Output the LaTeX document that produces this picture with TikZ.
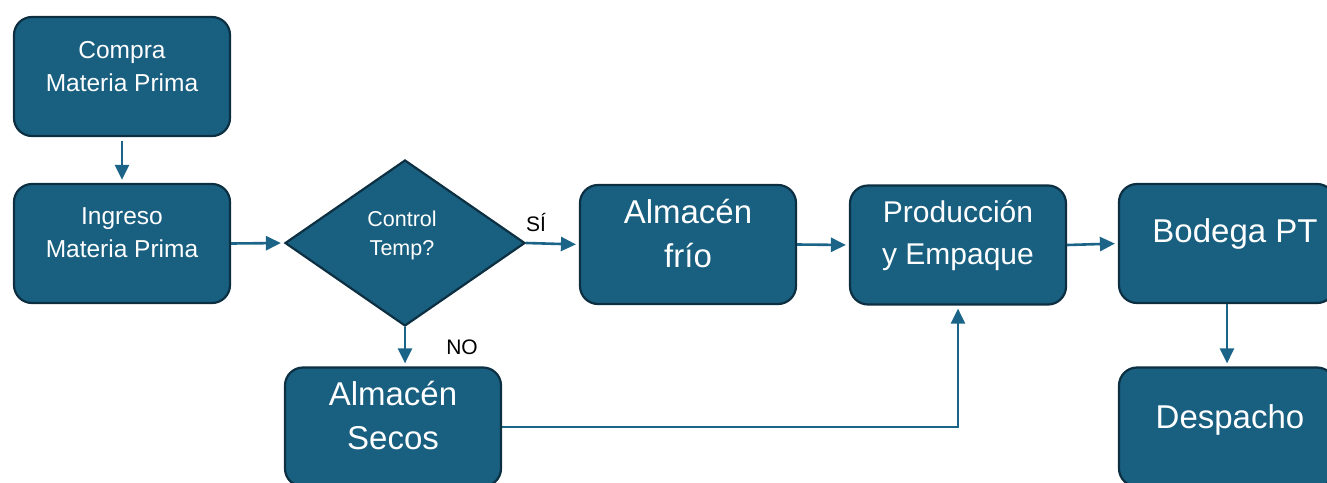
\documentclass[tikz,border=0pt]{standalone}
\usepackage{fontspec}
\setmainfont{Liberation Sans}
\usetikzlibrary{arrows.meta,shapes.geometric}
\definecolor{boxfill}{HTML}{185F80}
\definecolor{boxline}{HTML}{0C3042}
\definecolor{arrowc}{HTML}{1B6487}
\begin{document}
\begin{tikzpicture}[x=1pt,y=-1pt,
  box/.style={draw=boxline, fill=boxfill, line width=2.2pt, rounded corners=18pt,
    minimum width=216pt, minimum height=119pt, inner sep=0pt},
  dec/.style={shape=diamond, draw=boxline, fill=boxfill, line width=2.2pt,
    minimum width=240pt, minimum height=166pt, inner sep=0pt},
  txt/.style={text=white, align=center, inner sep=0pt},
  small/.style={font=\fontsize{24.5}{33}\selectfont},
  tiny/.style={font=\fontsize{21.5}{29}\selectfont},
  big/.style={font=\fontsize{33}{44}\selectfont},
  mid/.style={font=\fontsize{30}{42}\selectfont},
  lab/.style={text=black, inner sep=0pt, font=\fontsize{21}{25}\selectfont},
  conn/.style={draw=arrowc, line width=2.6pt, -{Triangle[length=15pt,width=14pt]}, shorten >=3pt}
]
\useasboundingbox (0,0) rectangle (1327,482);
\clip (0,0) rectangle (1327,482);
% boxes
\node[box] (compra) at (122,76.5) {};
\node[box] (ingreso) at (122,243.5) {};
\node[dec] (ctrl) at (405,243) {};
\node[box] (frio) at (688,244.5) {};
\node[box] (prod) at (958,245) {};
\node[box] (bodega) at (1227,243.5) {};
\node[box] (desp) at (1227,427) {};
\node[box] (secos) at (393,427) {};
% texts
\node[txt,small] (tcompra) at (122,66.5) {Compra\\Materia Prima};
\node[txt,small] (tingreso) at (122,233) {Ingreso\\Materia Prima};
\node[txt,tiny] (tctrl) at (402,235.5) {Control\\Temp?};
\node[txt,big] (tfrio) at (688,233.5) {Almacén\\frío};
\node[txt,mid] (tprod) at (958,236) {Producción\\y Empaque};
\node[txt,big] (tbodega) at (1235,234) {Bodega PT};
\node[txt,big] (tdesp) at (1230,420) {Despacho};
\node[txt,big] (tsecos) at (393,416) {Almacén\\Secos};
% labels
\node[lab] (si) at (536,222) {SÍ};
\node[lab] (no) at (462,347) {NO};
% connectors
\draw[conn, shorten <=4pt] (compra.south) -- (ingreso.north);
\draw[conn] (ingreso.east) -- (ctrl.west);
\draw[conn] (ctrl.east) -- (frio.west);
\draw[conn] (frio.east) -- (prod.west);
\draw[conn] (prod.east) -- (bodega.west);
\draw[conn] (bodega.south) -- (desp.north);
\draw[conn] (ctrl.south) -- (ctrl.south |- secos.north);
\draw[conn] (secos.east) -| (prod.south);
\end{tikzpicture}
\end{document}
